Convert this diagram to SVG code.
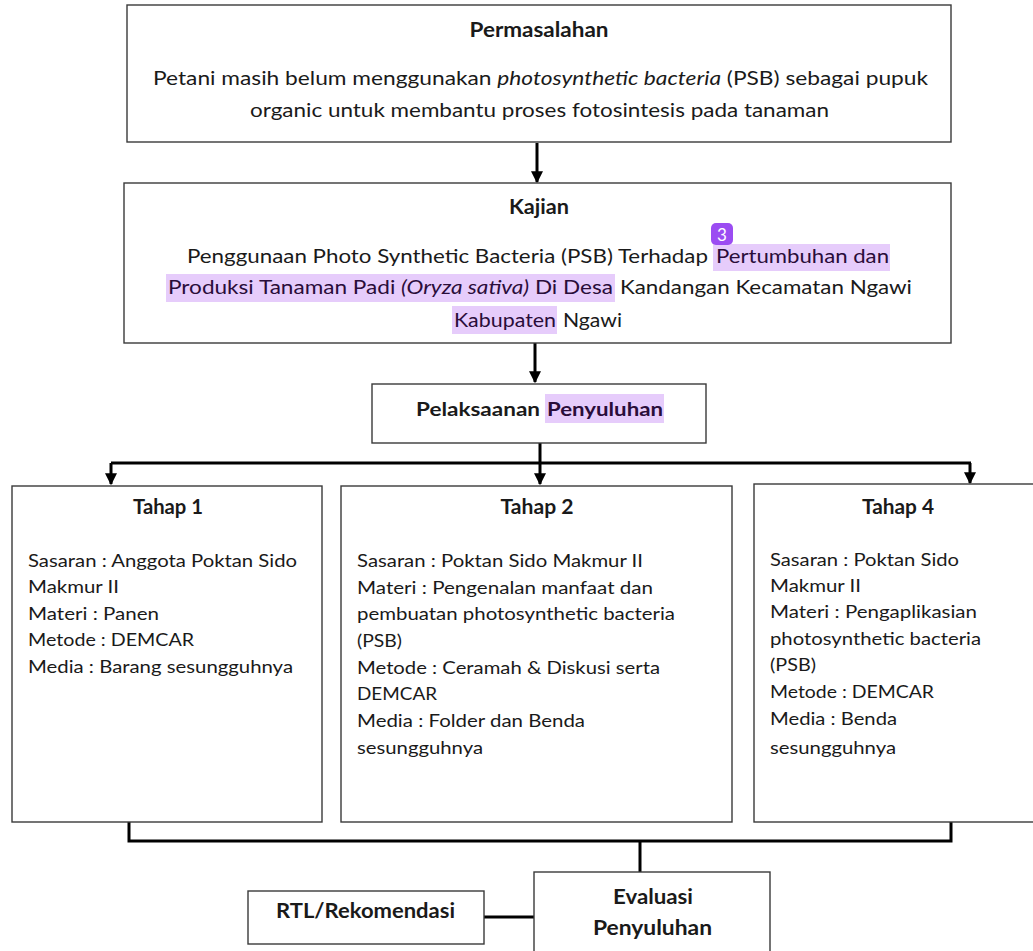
<svg xmlns="http://www.w3.org/2000/svg" width="1033" height="951" viewBox="0 0 1033 951">
<style>
.box{fill:#fff;stroke:#3a3a3a;stroke-width:1.4}
.t{font-family:Lato,"Open Sans","Liberation Sans",sans-serif;fill:#1a1a1a}
.b{font-weight:bold}
.c{text-anchor:middle}
.big{font-size:19.5px}
.ttl{font-size:20.5px}
.sm{font-size:17.5px}
.hl{fill:#e6ccfb}
.ht{fill:#2a0d3a}
.conn{stroke:#000;stroke-width:3;fill:none}
</style>
<defs>
<marker id="ah" viewBox="0 0 10 10" refX="9" refY="5" markerWidth="4" markerHeight="4" orient="auto" markerUnits="strokeWidth">
<path d="M0,0 L10,5 L0,10 z" fill="#000"/>
</marker>
</defs>
<g id="connectors">
<line class="conn" x1="537" y1="143" x2="537" y2="182" marker-end="url(#ah)"/>
<line class="conn" x1="535" y1="343" x2="535" y2="382" marker-end="url(#ah)"/>
<line class="conn" x1="540" y1="443" x2="540" y2="463"/>
<line class="conn" x1="111" y1="463" x2="971" y2="463"/>
<line class="conn" x1="111" y1="463" x2="111" y2="484" marker-end="url(#ah)"/>
<line class="conn" x1="540" y1="463" x2="540" y2="484" marker-end="url(#ah)"/>
<line class="conn" x1="970" y1="463" x2="970" y2="483" marker-end="url(#ah)"/>
<polyline class="conn" points="129,822 129,841 951,841 951,822"/>
<line class="conn" x1="640" y1="841" x2="640" y2="872"/>
<line class="conn" x1="484" y1="917" x2="534" y2="917"/>
</g>
<g id="permasalahan">
<rect class="box" x="127" y="5" width="824" height="137"/>
<text class="t b c ttl" x="539" y="37" textLength="139" lengthAdjust="spacingAndGlyphs">Permasalahan</text>
<text class="t big" x="153" y="85" textLength="775" lengthAdjust="spacingAndGlyphs">Petani masih belum menggunakan <tspan font-style="italic">photosynthetic bacteria</tspan> (PSB) sebagai pupuk</text>
<text class="t big" x="250" y="117" textLength="579" lengthAdjust="spacingAndGlyphs">organic untuk membantu proses fotosintesis pada tanaman</text>
</g>
<g id="kajian">
<rect class="box" x="124" y="183" width="827" height="160"/>
<text class="t b c ttl" x="539" y="214" textLength="60" lengthAdjust="spacingAndGlyphs">Kajian</text>
<rect class="hl" x="713" y="244" width="177" height="27"/>
<rect class="hl" x="166" y="274" width="449" height="28"/>
<rect class="hl" x="452" y="306" width="105" height="28"/>
<text class="t big" x="187" y="263" textLength="521" lengthAdjust="spacingAndGlyphs">Penggunaan Photo Synthetic Bacteria (PSB) Terhadap</text>
<text class="t big ht" x="716" y="263" textLength="173" lengthAdjust="spacingAndGlyphs">Pertumbuhan dan</text>
<text class="t big ht" x="168" y="294" textLength="445" lengthAdjust="spacingAndGlyphs">Produksi Tanaman Padi <tspan font-style="italic">(Oryza sativa)</tspan> Di Desa</text>
<text class="t big" x="620" y="294" textLength="292" lengthAdjust="spacingAndGlyphs">Kandangan Kecamatan Ngawi</text>
<text class="t big ht" x="454" y="327" textLength="102" lengthAdjust="spacingAndGlyphs">Kabupaten</text>
<text class="t big" x="563" y="327" textLength="59" lengthAdjust="spacingAndGlyphs">Ngawi</text>
<rect x="711" y="223" width="22" height="22" rx="5" fill="#9b4cf2"/>
<text class="t c" x="722" y="241" font-size="17" style="fill:#fff">3</text>
</g>
<g id="pelaksanaan">
<rect class="box" x="372" y="384" width="334" height="59"/>
<rect class="hl" x="545" y="394" width="119" height="29"/>
<text class="t b big" x="416" y="416" textLength="124" lengthAdjust="spacingAndGlyphs">Pelaksaanan</text>
<text class="t b big ht" x="547" y="416" textLength="116" lengthAdjust="spacingAndGlyphs">Penyuluhan</text>
</g>
<g id="tahap1">
<rect class="box" x="12" y="486" width="310" height="336"/>
<text class="t b c ttl" x="168" y="514" textLength="70" lengthAdjust="spacingAndGlyphs">Tahap 1</text>
<text class="t sm" x="28" y="567" textLength="269" lengthAdjust="spacingAndGlyphs">Sasaran : Anggota Poktan Sido</text>
<text class="t sm" x="28" y="593" textLength="91" lengthAdjust="spacingAndGlyphs">Makmur II</text>
<text class="t sm" x="28" y="620" textLength="131" lengthAdjust="spacingAndGlyphs">Materi : Panen</text>
<text class="t sm" x="28" y="646" textLength="166" lengthAdjust="spacingAndGlyphs">Metode : DEMCAR</text>
<text class="t sm" x="28" y="673" textLength="265" lengthAdjust="spacingAndGlyphs">Media : Barang sesungguhnya</text>
</g>
<g id="tahap2">
<rect class="box" x="341" y="486" width="391" height="336"/>
<text class="t b c ttl" x="537" y="514" textLength="73" lengthAdjust="spacingAndGlyphs">Tahap 2</text>
<text class="t sm" x="357" y="567" textLength="286" lengthAdjust="spacingAndGlyphs">Sasaran : Poktan Sido Makmur II</text>
<text class="t sm" x="357" y="594" textLength="296" lengthAdjust="spacingAndGlyphs">Materi : Pengenalan manfaat dan</text>
<text class="t sm" x="357" y="620" textLength="318" lengthAdjust="spacingAndGlyphs">pembuatan photosynthetic bacteria</text>
<text class="t sm" x="357" y="647" textLength="45" lengthAdjust="spacingAndGlyphs">(PSB)</text>
<text class="t sm" x="357" y="674" textLength="303" lengthAdjust="spacingAndGlyphs">Metode : Ceramah &amp; Diskusi serta</text>
<text class="t sm" x="357" y="700" textLength="80" lengthAdjust="spacingAndGlyphs">DEMCAR</text>
<text class="t sm" x="357" y="727" textLength="228" lengthAdjust="spacingAndGlyphs">Media : Folder dan Benda</text>
<text class="t sm" x="357" y="754" textLength="126" lengthAdjust="spacingAndGlyphs">sesungguhnya</text>
</g>
<g id="tahap4">
<rect class="box" x="754" y="484" width="290" height="338"/>
<text class="t b c ttl" x="898" y="514" textLength="72" lengthAdjust="spacingAndGlyphs">Tahap 4</text>
<text class="t sm" x="770" y="566" textLength="189" lengthAdjust="spacingAndGlyphs">Sasaran : Poktan Sido</text>
<text class="t sm" x="770" y="592" textLength="91" lengthAdjust="spacingAndGlyphs">Makmur II</text>
<text class="t sm" x="770" y="618" textLength="207" lengthAdjust="spacingAndGlyphs">Materi : Pengaplikasian</text>
<text class="t sm" x="770" y="645" textLength="211" lengthAdjust="spacingAndGlyphs">photosynthetic bacteria</text>
<text class="t sm" x="770" y="671" textLength="46" lengthAdjust="spacingAndGlyphs">(PSB)</text>
<text class="t sm" x="770" y="698" textLength="164" lengthAdjust="spacingAndGlyphs">Metode : DEMCAR</text>
<text class="t sm" x="770" y="725" textLength="127" lengthAdjust="spacingAndGlyphs">Media : Benda</text>
<text class="t sm" x="770" y="754" textLength="126" lengthAdjust="spacingAndGlyphs">sesungguhnya</text>
</g>
<g id="evaluasi">
<rect class="box" x="534" y="872" width="236" height="90"/>
<text class="t b c ttl" x="653" y="904" textLength="80" lengthAdjust="spacingAndGlyphs">Evaluasi</text>
<text class="t b c ttl" x="652.5" y="935" textLength="119" lengthAdjust="spacingAndGlyphs">Penyuluhan</text>
</g>
<g id="rtl">
<rect class="box" x="248" y="891" width="236" height="53"/>
<text class="t b c ttl" x="365.5" y="918" textLength="179" lengthAdjust="spacingAndGlyphs">RTL/Rekomendasi</text>
</g>
</svg>
